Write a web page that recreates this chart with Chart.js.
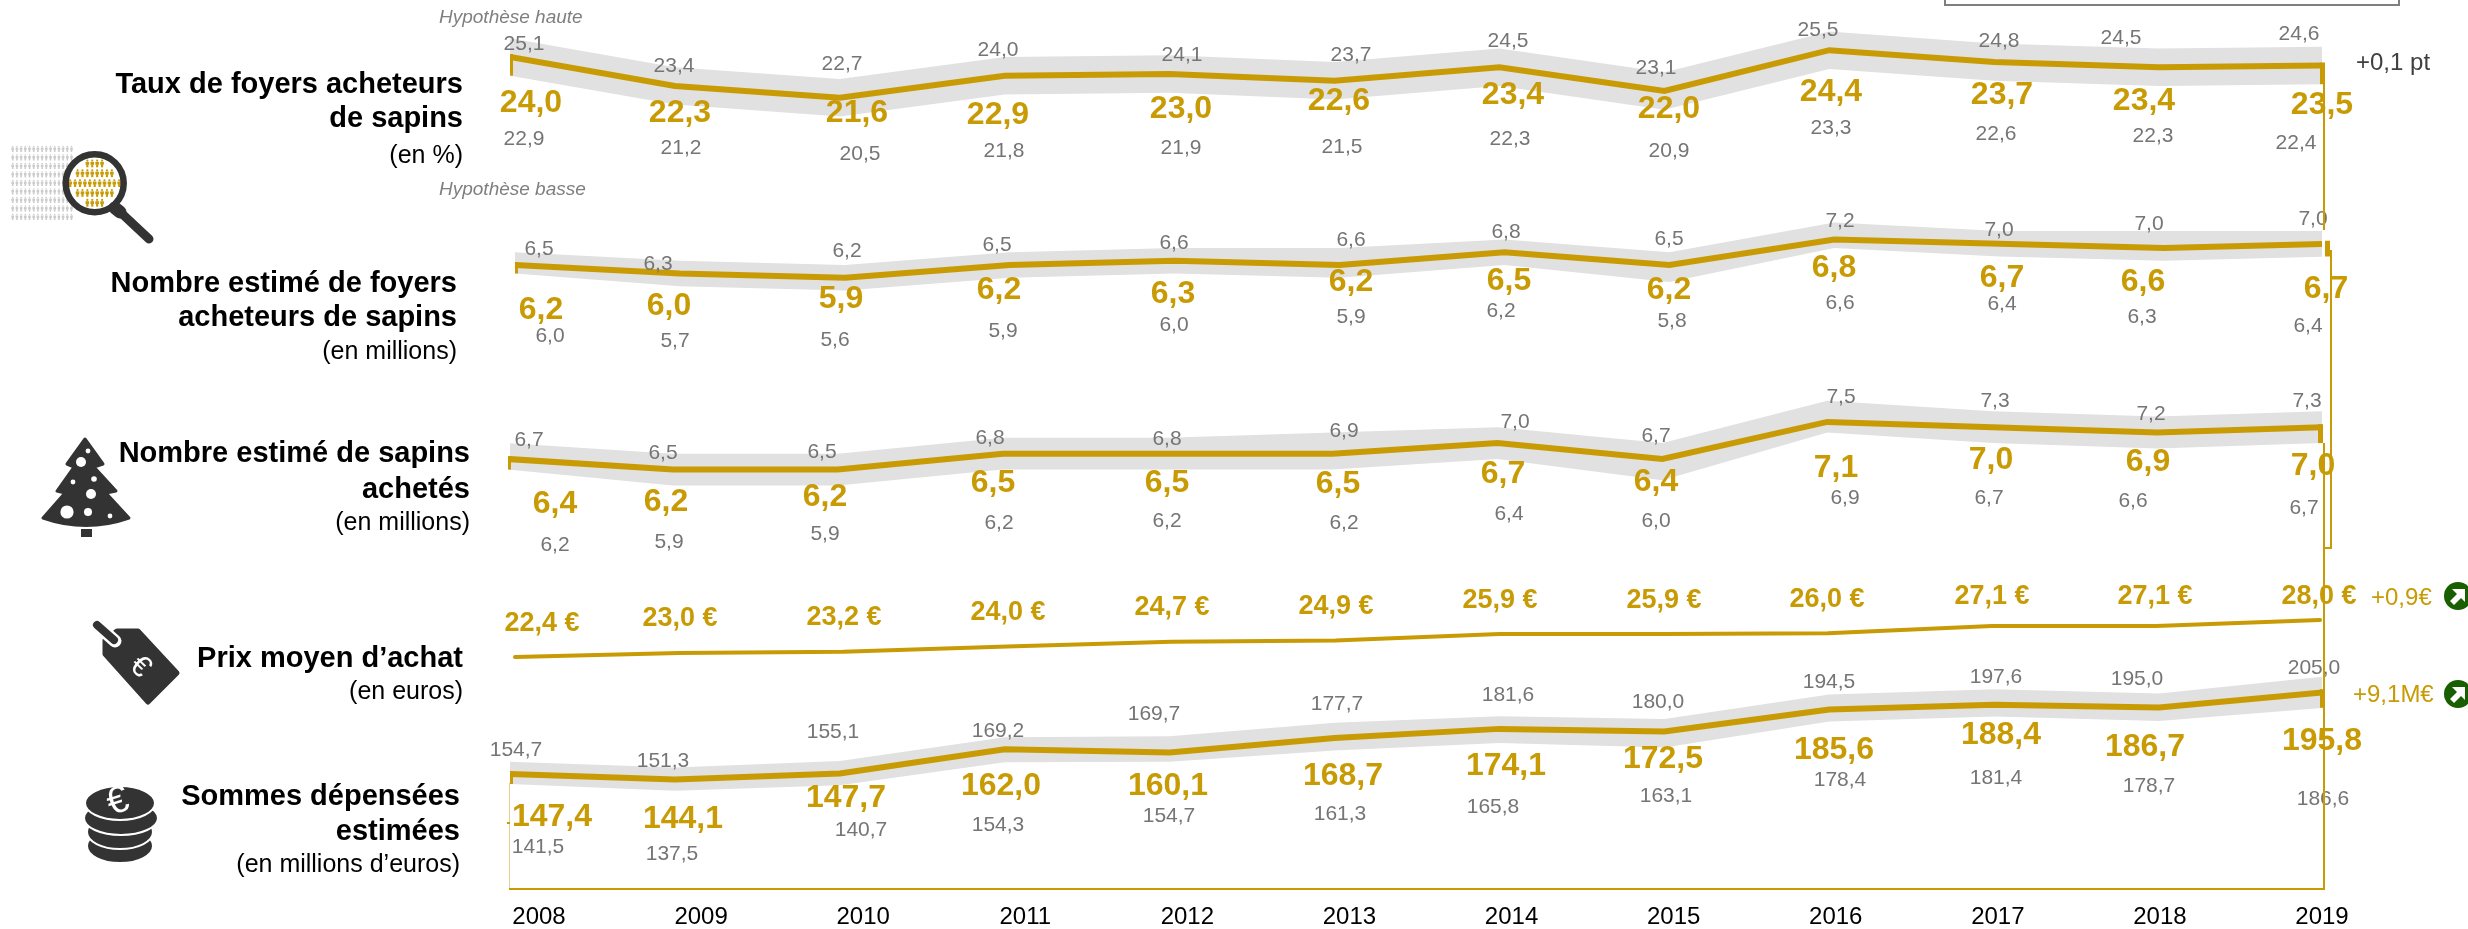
<!DOCTYPE html>
<html lang="fr">
<head>
<meta charset="utf-8">
<title>Sapins de Noël</title>
<style>
    html, body { margin: 0; padding: 0; background: #fff; }
    canvas { display: block; }
</style>
<script src="https://cdn.jsdelivr.net/npm/chart.js@4"></script>
</head>
<body>
<canvas id="chart" width="2468" height="929"></canvas>
<script>
// Data
const years = [2008, 2009, 2010, 2011, 2012, 2013, 2014, 2015, 2016, 2017, 2018, 2019];

const tauxHaut = [25.1, 23.4, 22.7, 24.0, 24.1, 23.7, 24.5, 23.1, 25.5, 24.8, 24.5, 24.6];
const tauxMoyen = [24.0, 22.3, 21.6, 22.9, 23.0, 22.6, 23.4, 22.0, 24.4, 23.7, 23.4, 23.5];
const tauxBas = [22.9, 21.2, 20.5, 21.8, 21.9, 21.5, 22.3, 20.9, 23.3, 22.6, 22.3, 22.4];

const foyersHaut = [6.5, 6.3, 6.2, 6.5, 6.6, 6.6, 6.8, 6.5, 7.2, 7.0, 7.0, 7.0];
const foyersMoyen = [6.2, 6.0, 5.9, 6.2, 6.3, 6.2, 6.5, 6.2, 6.8, 6.7, 6.6, 6.7];
const foyersBas = [6.0, 5.7, 5.6, 5.9, 6.0, 5.9, 6.2, 5.8, 6.6, 6.4, 6.3, 6.4];

const sapinsHaut = [6.7, 6.5, 6.5, 6.8, 6.8, 6.9, 7.0, 6.7, 7.5, 7.3, 7.2, 7.3];
const sapinsMoyen = [6.4, 6.2, 6.2, 6.5, 6.5, 6.5, 6.7, 6.4, 7.1, 7.0, 6.9, 7.0];
const sapinsBas = [6.2, 5.9, 5.9, 6.2, 6.2, 6.2, 6.4, 6.0, 6.9, 6.7, 6.6, 6.7];

const prixMoyen = [22.4, 23.0, 23.2, 24.0, 24.7, 24.9, 25.9, 25.9, 26.0, 27.1, 27.1, 28.0];

const sommesHaut = [154.7, 151.3, 155.1, 169.2, 169.7, 177.7, 181.6, 180.0, 194.5, 197.6, 195.0, 205.0];
const sommesMoyen = [147.4, 144.1, 147.7, 162.0, 160.1, 168.7, 174.1, 172.5, 185.6, 188.4, 186.7, 195.8];
const sommesBas = [141.5, 137.5, 140.7, 154.3, 154.7, 161.3, 165.8, 163.1, 178.4, 181.4, 178.7, 186.6];

// Layout
const GOLD = '#c89b05';
const GREY_TEXT = '#757575';
const BAND = '#e1e1e1';
const DARK = '#333333';
const FONT = '"Liberation Sans", Arial, sans-serif';
const AREA_LEFT = 510, AREA_RIGHT = 2322, AREA_BOTTOM = 890;

// where each value label sits, the originals are placed by hand and not regular
const tauxHautPos = [[524,44],[674,66],[842,64],[998,50],[1182,55],[1351,55],[1508,41],[1656,68],[1818,30],[1999,41],[2121,38],[2299,34]];
const tauxMoyenPos = [[531,103],[680,113],[857,113],[998,115],[1181,109],[1339,101],[1513,95],[1669,109],[1831,92],[2002,95],[2144,101],[2322,105]];
const tauxBasPos = [[524,139],[681,148],[860,154],[1004,151],[1181,148],[1342,147],[1510,139],[1669,151],[1831,128],[1996,134],[2153,136],[2296,143]];

const foyersHautPos = [[539,249],[658,264],[847,251],[997,245],[1174,243],[1351,240],[1506,232],[1669,239],[1840,221],[1999,230],[2149,224],[2313,219]];
const foyersMoyenPos = [[541,310],[669,306],[841,299],[999,290],[1173,294],[1351,282],[1509,281],[1669,290],[1834,268],[2002,278],[2143,282],[2326,289]];
const foyersBasPos = [[550,336],[675,341],[835,340],[1003,331],[1174,325],[1351,317],[1501,311],[1672,321],[1840,303],[2002,304],[2142,317],[2308,326]];

const sapinsHautPos = [[529,440],[663,453],[822,452],[990,438],[1167,439],[1344,431],[1515,422],[1656,436],[1841,397],[1995,401],[2151,414],[2307,401]];
const sapinsMoyenPos = [[555,504],[666,502],[825,497],[993,483],[1167,483],[1338,484],[1503,474],[1656,482],[1836,468],[1991,460],[2148,462],[2313,466]];
const sapinsBasPos = [[555,545],[669,542],[825,534],[999,523],[1167,521],[1344,523],[1509,514],[1656,521],[1845,498],[1989,498],[2133,501],[2304,508]];

const prixPos = [[542,624],[680,619],[844,618],[1008,613],[1172,608],[1336,607],[1500,601],[1664,601],[1827,600],[1992,597],[2155,597],[2319,597]];

const sommesHautPos = [[516,750],[663,761],[833,732],[998,731],[1154,714],[1337,704],[1508,695],[1658,702],[1829,682],[1996,677],[2137,679],[2314,668]];
const sommesMoyenPos = [[552,817],[683,819],[846,798],[1001,786],[1168,786],[1343,776],[1506,766],[1663,759],[1834,750],[2001,735],[2145,747],[2322,741]];
const sommesBasPos = [[538,847],[672,854],[861,830],[998,825],[1169,816],[1340,814],[1493,807],[1666,796],[1840,780],[1996,778],[2149,786],[2323,799]];

// one hidden x and y axis per row: first/last point pixel, and y pixel of a reference value
const rows = [
    { id: '1', hi: tauxHaut, mid: tauxMoyen, lo: tauxBas, x0: 510, x1: 2324, v0: 24.0, y0: 57, k: 17, lw: 6,
      hiPos: tauxHautPos, midPos: tauxMoyenPos, loPos: tauxBasPos },
    { id: '2', hi: foyersHaut, mid: foyersMoyen, lo: foyersBas, x0: 515, x1: 2329, v0: 6.2, y0: 265, k: 42.5, lw: 6,
      hiPos: foyersHautPos, midPos: foyersMoyenPos, loPos: foyersBasPos },
    { id: '3', hi: sapinsHaut, mid: sapinsMoyen, lo: sapinsBas, x0: 508, x1: 2322, v0: 6.4, y0: 459, k: 53, lw: 6,
      hiPos: sapinsHautPos, midPos: sapinsMoyenPos, loPos: sapinsBasPos },
    { id: '4', mid: prixMoyen, x0: 515, x1: 2320, v0: 22.4, y0: 657, k: 6.6, lw: 4, suffix: ' €',
      midPos: prixPos },
    { id: '5', hi: sommesHaut, mid: sommesMoyen, lo: sommesBas, x0: 510, x1: 2324, v0: 147.4, y0: 774, k: 1.69, lw: 6,
      hiPos: sommesHautPos, midPos: sommesMoyenPos, loPos: sommesBasPos }
];

const titles = [
    { right: 463, lines: [['Taux de foyers acheteurs', 85, 1], ['de sapins', 119, 1], ['(en %)', 156, 0]] },
    { right: 457, lines: [['Nombre estimé de foyers', 284, 1], ['acheteurs de sapins', 318, 1], ['(en millions)', 352, 0]] },
    { right: 470, lines: [['Nombre estimé de sapins', 454, 1], ['achetés', 490, 1], ['(en millions)', 523, 0]] },
    { right: 463, lines: [['Prix moyen d’achat', 659, 1], ['(en euros)', 692, 0]] },
    { right: 460, lines: [['Sommes dépensées', 797, 1], ['estimées', 832, 1], ['(en millions d’euros)', 865, 0]] }
];

// Helpers
function frNumber(v) {
    return v.toFixed(1).replace('.', ',');
}
function toPoints(values) {
    return values.map((v, i) => ({ x: years[i], y: v }));
}
// axis range so that 2008 and 2019 land on the pixels x0 and x1
function xRange(x0, x1) {
    const perYear = (x1 - x0) / 11;
    return {
        min: 2008 + (AREA_LEFT - x0) / perYear,
        max: 2008 + (AREA_RIGHT - x0) / perYear
    };
}
function yRange(row) {
    return {
        min: row.v0 - (AREA_BOTTOM - row.y0) / row.k,
        max: row.v0 + row.y0 / row.k
    };
}

// Scales and datasets
const scales = {
    xYears: {
        type: 'linear',
        position: 'bottom',
        min: 2008 - 29 / 162,
        max: 2019,
        border: { display: false },
        grid: { display: false, drawTicks: false },
        afterBuildTicks: axis => { axis.ticks = years.map(y => ({ value: y })); },
        afterFit: axis => { axis.height = 929 - AREA_BOTTOM; },
        ticks: {
            autoSkip: false,
            maxRotation: 0,
            padding: 13,
            color: '#000',
            font: { family: FONT, size: 24 },
            callback: v => String(v)
        }
    }
};
const datasets = [];
rows.forEach(row => {
    scales['x' + row.id] = { type: 'linear', display: false, ...xRange(row.x0, row.x1) };
    scales['y' + row.id] = { type: 'linear', display: false, ...yRange(row) };
    const axes = { xAxisID: 'x' + row.id, yAxisID: 'y' + row.id, pointRadius: 0, tension: 0 };
    row.midIndex = datasets.length;
    datasets.push({
        ...axes,
        label: 'moyen' + row.id,
        data: toPoints(row.mid),
        borderColor: GOLD,
        borderWidth: row.lw,
        borderJoinStyle: 'miter',
        borderCapStyle: row.hi ? 'butt' : 'round',
        fill: false,
        order: 0
    });
    if (row.hi) {
        datasets.push({
            ...axes,
            label: 'haut' + row.id,
            data: toPoints(row.hi),
            borderWidth: 0,
            backgroundColor: BAND,
            fill: '+1',
            order: 1
        });
        row.loIndex = datasets.length;
        datasets.push({
            ...axes,
            label: 'bas' + row.id,
            data: toPoints(row.lo),
            borderWidth: 0,
            fill: false,
            order: 1
        });
    }
});

// Little end ticks under each line, down to the low hypothesis
const endTicks = {
    id: 'endTicks',
    afterDatasetsDraw(chart) {
        const ctx = chart.ctx;
        ctx.save();
        ctx.fillStyle = GOLD;
        rows.forEach(row => {
            if (row.loIndex === undefined) return;
            const mid = chart.getDatasetMeta(row.midIndex).data;
            const lo = chart.getDatasetMeta(row.loIndex).data;
            const n = mid.length - 1;
            ctx.fillRect(mid[0].x, mid[0].y - 3, 3, lo[0].y - mid[0].y + 3);
            ctx.fillRect(mid[n].x - 4, mid[n].y - 3, 5, lo[n].y - mid[n].y + 3);
        });
        ctx.restore();
    }
};

// Value labels, row titles and side notes
const labels = {
    id: 'labels',
    afterDatasetsDraw(chart) {
        const ctx = chart.ctx;
        ctx.save();
        ctx.textBaseline = 'middle';

        ctx.textAlign = 'center';
        rows.forEach(row => {
            if (row.hi) {
                ctx.fillStyle = GREY_TEXT;
                ctx.font = `21px ${FONT}`;
                row.hi.forEach((v, i) => ctx.fillText(frNumber(v), row.hiPos[i][0], row.hiPos[i][1]));
                row.lo.forEach((v, i) => ctx.fillText(frNumber(v), row.loPos[i][0], row.loPos[i][1]));
            }
            ctx.fillStyle = GOLD;
            ctx.font = `bold ${row.suffix ? 27 : 32}px ${FONT}`;
            row.mid.forEach((v, i) => ctx.fillText(frNumber(v) + (row.suffix || ''), row.midPos[i][0], row.midPos[i][1]));
        });

        ctx.textAlign = 'right';
        ctx.fillStyle = '#000';
        titles.forEach(t => {
            t.lines.forEach(([txt, y, bold]) => {
                ctx.font = bold ? `bold 29px ${FONT}` : `25px ${FONT}`;
                ctx.fillText(txt, t.right, y);
            });
        });

        ctx.textAlign = 'left';
        ctx.fillStyle = '#7f7f7f';
        ctx.font = `italic 19px ${FONT}`;
        ctx.fillText('Hypothèse haute', 439, 18);
        ctx.fillText('Hypothèse basse', 439, 190);

        ctx.font = `24px ${FONT}`;
        ctx.fillStyle = '#404040';
        ctx.fillText('+0,1 pt', 2356, 63);
        ctx.fillStyle = GOLD;
        ctx.fillText('+0,9€', 2371, 598);
        ctx.fillText('+9,1M€', 2353, 695);
        ctx.restore();
    }
};

// Gold frame, grey box in the corner
const frames = {
    id: 'frames',
    afterDraw(chart) {
        const ctx = chart.ctx;
        ctx.save();
        ctx.strokeStyle = GOLD;
        ctx.lineWidth = 2;
        ctx.beginPath();
        ctx.moveTo(2324, 84);
        ctx.lineTo(2324, 230);
        ctx.moveTo(2331, 250);
        ctx.lineTo(2331, 548);
        ctx.lineTo(2324, 548);
        ctx.moveTo(2324, 443);
        ctx.lineTo(2324, 889);
        ctx.lineTo(509, 889);
        ctx.stroke();

        ctx.strokeStyle = 'rgba(200, 155, 5, 0.45)';
        ctx.lineWidth = 1;
        ctx.beginPath();
        ctx.moveTo(509.5, 783);
        ctx.lineTo(509.5, 889);
        ctx.stroke();
        ctx.fillStyle = GOLD;
        ctx.fillRect(507, 822, 3, 2);

        ctx.strokeStyle = '#7f7f7f';
        ctx.lineWidth = 2;
        ctx.strokeRect(1945, -6, 454, 11);
        ctx.restore();
    }
};

// Icons
function drawPerson(ctx, x, y, w, h) {
    ctx.beginPath();
    ctx.arc(x, y - h * 0.38, w * 0.3, 0, Math.PI * 2);
    ctx.fill();
    ctx.fillRect(x - w / 2, y - h * 0.22, w, h * 0.36);
    ctx.fillRect(x - w * 0.3, y + h * 0.1, w * 0.6, h * 0.36);
}

function drawMagnifier(ctx) {
    ctx.fillStyle = '#cbcbcb';
    for (let r = 0; r < 9; r++) {
        for (let c = 0; c < 15; c++) {
            drawPerson(ctx, 12.7 + c * 4.2, 149 + r * 8.5, 2.6, 6.6);
        }
    }
    const lx = 94.7, ly = 183.3;
    ctx.fillStyle = '#fff';
    ctx.beginPath();
    ctx.arc(lx, ly, 32, 0, Math.PI * 2);
    ctx.fill();

    ctx.fillStyle = GOLD;
    [4, 8, 11, 8, 4].forEach((count, r) => {
        for (let c = 0; c < count; c++) {
            drawPerson(ctx, lx + (c - (count - 1) / 2) * 4.9, ly + (r - 2) * 9.83, 3.6, 8);
        }
    });

    ctx.strokeStyle = DARK;
    ctx.lineWidth = 6.5;
    ctx.beginPath();
    ctx.arc(lx, ly, 29, 0, Math.PI * 2);
    ctx.stroke();

    ctx.lineCap = 'round';
    ctx.lineWidth = 9;
    ctx.beginPath();
    ctx.moveTo(118, 210);
    ctx.lineTo(149, 239);
    ctx.stroke();
    ctx.lineWidth = 13;
    ctx.beginPath();
    ctx.moveTo(115, 208);
    ctx.lineTo(120, 212);
    ctx.stroke();
    ctx.lineCap = 'butt';
}

function drawTree(ctx) {
    ctx.fillStyle = DARK;
    ctx.strokeStyle = DARK;
    ctx.lineWidth = 3;
    ctx.lineJoin = 'round';
    ctx.beginPath();
    ctx.moveTo(85, 439);
    ctx.lineTo(103, 464);
    ctx.lineTo(94, 467);
    ctx.lineTo(116, 491);
    ctx.lineTo(106, 493);
    ctx.lineTo(129, 518);
    ctx.quadraticCurveTo(86, 533, 43, 518);
    ctx.lineTo(65, 493);
    ctx.lineTo(57, 491);
    ctx.lineTo(74, 467);
    ctx.lineTo(67, 464);
    ctx.closePath();
    ctx.fill();
    ctx.stroke();
    ctx.fillRect(81, 529, 11, 8);

    ctx.fillStyle = '#fff';
    [[88,451,2.4],[81,462,5],[73,482,2.4],[94,479,2.8],[91,494,5],[67,512,6.6],[88,512,4],[110,516,2.4]].forEach(([x, y, r]) => {
        ctx.beginPath();
        ctx.arc(x, y, r, 0, Math.PI * 2);
        ctx.fill();
    });
}

function drawTag(ctx) {
    ctx.fillStyle = DARK;
    ctx.strokeStyle = DARK;
    ctx.lineWidth = 5;
    ctx.lineJoin = 'round';
    ctx.beginPath();
    ctx.moveTo(117, 631);
    ctx.lineTo(138, 631);
    ctx.lineTo(177, 673);
    ctx.lineTo(148, 702);
    ctx.lineTo(105, 654);
    ctx.lineTo(105, 640);
    ctx.closePath();
    ctx.fill();
    ctx.stroke();

    // string of the tag
    ctx.lineCap = 'round';
    ctx.strokeStyle = '#fff';
    ctx.lineWidth = 13;
    ctx.beginPath();
    ctx.moveTo(97, 625);
    ctx.lineTo(115, 641);
    ctx.stroke();
    ctx.strokeStyle = DARK;
    ctx.lineWidth = 8;
    ctx.beginPath();
    ctx.moveTo(97, 625);
    ctx.lineTo(114, 640);
    ctx.stroke();
    ctx.lineCap = 'butt';

    ctx.save();
    ctx.translate(140, 667);
    ctx.rotate(Math.PI / 4);
    ctx.fillStyle = '#fff';
    ctx.font = `30px ${FONT}`;
    ctx.textAlign = 'center';
    ctx.textBaseline = 'middle';
    ctx.fillText('€', 0, 0);
    ctx.restore();
}

function drawCoins(ctx) {
    ctx.fillStyle = DARK;
    ctx.strokeStyle = '#fff';
    ctx.lineWidth = 2;
    [[120,846,33,17],[120,832,33,17],[121,818,37,17],[120,803,35,17]].forEach(([x, y, rx, ry]) => {
        ctx.beginPath();
        ctx.ellipse(x, y, rx, ry, 0, 0, Math.PI * 2);
        ctx.fill();
        ctx.stroke();
    });
    ctx.save();
    ctx.translate(118, 802);
    ctx.rotate(-0.3);
    ctx.fillStyle = '#fff';
    ctx.font = `38px ${FONT}`;
    ctx.textAlign = 'center';
    ctx.textBaseline = 'middle';
    ctx.fillText('€', 0, 0);
    ctx.restore();
}

function drawUpArrow(ctx, x, y) {
    ctx.fillStyle = '#175f00';
    ctx.beginPath();
    ctx.arc(x, y, 14, 0, Math.PI * 2);
    ctx.fill();
    ctx.fillStyle = '#fff';
    ctx.beginPath();
    ctx.moveTo(x - 6, y - 7);
    ctx.lineTo(x + 7, y - 7);
    ctx.lineTo(x + 7, y + 6);
    ctx.lineTo(x + 3, y + 2);
    ctx.lineTo(x - 4, y + 9);
    ctx.lineTo(x - 8, y + 5);
    ctx.lineTo(x - 1, y - 2);
    ctx.closePath();
    ctx.fill();
}

const icons = {
    id: 'icons',
    afterDraw(chart) {
        const ctx = chart.ctx;
        ctx.save();
        drawMagnifier(ctx);
        drawTree(ctx);
        drawTag(ctx);
        drawCoins(ctx);
        drawUpArrow(ctx, 2458, 596);
        drawUpArrow(ctx, 2458, 694);
        ctx.restore();
    }
};

new Chart(document.getElementById('chart'), {
    type: 'line',
    data: { datasets },
    options: {
        responsive: false,
        animation: false,
        layout: { padding: { left: AREA_LEFT, right: 2468 - AREA_RIGHT, top: 0, bottom: 0 } },
        plugins: { legend: { display: false }, tooltip: { enabled: false } },
        scales
    },
    plugins: [endTicks, labels, frames, icons]
});
</script>
</body>
</html>
